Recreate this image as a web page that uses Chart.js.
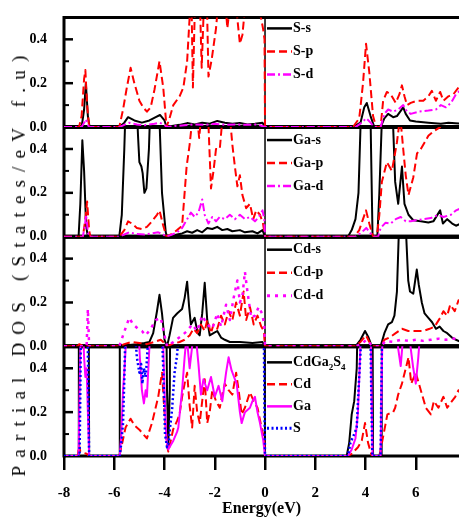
<!DOCTYPE html>
<html>
<head>
<meta charset="utf-8">
<script src="https://cdn.jsdelivr.net/npm/chart.js@4.4.0/dist/chart.umd.min.js"></script>
<style>
html,body{margin:0;padding:0;background:#fff;}
#wrap{position:relative;width:459px;height:518px;overflow:hidden;}
#yTitle{position:absolute;left:19px;top:262px;transform:translate(-50%,-50%) rotate(-90deg);
  font:19px "Liberation Serif",serif;letter-spacing:8.2px;white-space:nowrap;color:#000;}
</style>
</head>
<body>
<div id="wrap">
<canvas id="dos" width="459" height="518"></canvas>
<div id="yTitle">Partial DOS (States/eV f.u)</div>
</div>
<script>
// energy (eV), DOS pairs; values above 0.5 run off the top of a panel
const xTicks = [-8, -6, -4, -2, 0, 2, 4, 6]
const yTicks = [0, 0.2, 0.4]

// panel 1 : S
const sS = [[-8,0],[-7.3,0],[-7.2,0.08],[-7.13,0.2],[-7.05,0.05],[-6.98,0],[-5.8,0],[-5.6,0.02],[-5.45,0.045],[-5.2,0.03],[-4.9,0.02],[-4.6,0.03],[-4.35,0.045],[-4.18,0.055],[-4.0,0.03],[-3.92,0],[-3.7,0.005],[-3.4,0.01],[-3.1,0.018],[-2.8,0.012],[-2.5,0.02],[-2.2,0.015],[-1.9,0.028],[-1.6,0.02],[-1.3,0.015],[-1.0,0.018],[-0.7,0.012],[-0.4,0.015],[-0.1,0.02],[0,0],
  [3.5,0],[3.8,0.02],[3.95,0.09],[4.05,0.11],[4.2,0.05],[4.35,0],[4.6,0],[4.75,0.04],[4.9,0.06],[5.1,0.045],[5.25,0.05],[5.5,0.09],[5.6,0.06],[5.77,0.03],[6.0,0.025],[6.5,0.02],[7.0,0.015],[7.3,0.02],[7.8,0.015]]
const sP = [[-8,0],[-7.4,0],[-7.3,0.05],[-7.2,0.22],[-7.15,0.26],[-7.08,0.1],[-7.0,0],[-5.8,0],[-5.65,0.08],[-5.5,0.18],[-5.35,0.27],[-5.2,0.2],[-5.0,0.12],[-4.85,0.09],[-4.7,0.07],[-4.55,0.09],[-4.4,0.17],[-4.2,0.3],[-4.05,0.18],[-3.92,0],[-3.8,0.04],[-3.65,0.1],[-3.4,0.14],[-3.25,0.18],[-3.1,0.3],[-3.0,0.5],[-2.93,0.6],[-2.87,0.18],[-2.78,0.6],[-2.62,0.7],[-2.52,0.27],[-2.42,0.6],[-2.3,0.5],[-2.25,0.23],[-2.12,0.31],[-1.95,0.45],[-1.8,0.65],[-1.6,0.6],[-1.5,0.45],[-1.35,0.6],[-1.15,0.55],[-1.0,0.38],[-0.9,0.42],[-0.75,0.6],[-0.5,0.7],[-0.25,0.55],[-0.08,0.45],[-0.02,0.4],[0,0],
  [3.5,0],[3.75,0.04],[3.9,0.2],[4.02,0.38],[4.15,0.25],[4.3,0.05],[4.42,0],[4.6,0],[4.7,0.12],[4.85,0.16],[5.0,0.15],[5.1,0.13],[5.2,0.11],[5.35,0.15],[5.45,0.19],[5.55,0.14],[5.65,0.1],[5.8,0.11],[6.05,0.12],[6.3,0.12],[6.5,0.14],[6.64,0.165],[6.8,0.12],[6.97,0.16],[7.1,0.12],[7.3,0.14],[7.5,0.15],[7.7,0.18],[7.8,0.19]]
const sD = [[-8,0],[-7.3,0],[-7.2,0.02],[-7.13,0.035],[-7.05,0.01],[-7.0,0],[-5.8,0],[-5.6,0.01],[-5.4,0.02],[-5.1,0.012],[-4.8,0.008],[-4.4,0.015],[-4.2,0.02],[-4.0,0.01],[-3.92,0],[-3.6,0.005],[-3.2,0.008],[-2.8,0.012],[-2.4,0.01],[-2.0,0.015],[-1.6,0.01],[-1.2,0.012],[-0.8,0.01],[-0.3,0.012],[0,0],
  [3.6,0],[3.85,0.02],[4.03,0.04],[4.2,0.02],[4.35,0],[4.6,0],[4.75,0.06],[4.9,0.08],[5.1,0.07],[5.3,0.08],[5.5,0.1],[5.65,0.07],[5.8,0.06],[6.1,0.07],[6.5,0.075],[6.8,0.08],[7.0,0.1],[7.2,0.09],[7.4,0.11],[7.6,0.15],[7.8,0.17]]

// panel 2 : Ga
const gaS = [[-8,0],[-7.42,0],[-7.35,0.15],[-7.27,0.44],[-7.2,0.3],[-7.12,0.05],[-7.05,0],[-5.8,0],[-5.7,0.1],[-5.6,0.4],[-5.52,0.7],[-5.3,0.9],[-5.15,0.7],[-5.05,0.45],[-5.0,0.34],[-4.92,0.32],[-4.87,0.29],[-4.8,0.2],[-4.72,0.22],[-4.62,0.4],[-4.55,0.65],[-4.3,0.8],[-4.22,0.6],[-4.1,0.2],[-3.95,0.02],[-3.9,0],[-3.7,0.005],[-3.5,0.01],[-3.3,0.015],[-3.1,0.025],[-2.9,0.018],[-2.7,0.03],[-2.5,0.02],[-2.3,0.04],[-2.1,0.035],[-1.9,0.045],[-1.7,0.03],[-1.5,0.035],[-1.3,0.025],[-1.0,0.03],[-0.8,0.02],[-0.5,0.025],[-0.3,0.015],[-0.1,0.03],[0,0],
  [3.3,0],[3.45,0.03],[3.6,0.08],[3.72,0.2],[3.8,0.5],[3.9,0.9],[4.15,0.9],[4.22,0.4],[4.28,0],[4.47,0],[4.55,0.2],[4.7,0.7],[5.0,0.8],[5.1,0.5],[5.18,0.25],[5.3,0.15],[5.45,0.32],[5.55,0.15],[5.71,0.1],[5.9,0.075],[6.2,0.07],[6.5,0.065],[6.7,0.07],[6.97,0.12],[7.08,0.06],[7.25,0.08],[7.45,0.06],[7.6,0.05],[7.8,0.06]]
const gaP = [[-8,0],[-7.25,0],[-7.15,0.08],[-7.08,0.16],[-7.0,0.03],[-6.95,0],[-5.8,0],[-5.6,0.03],[-5.45,0.07],[-5.3,0.06],[-5.1,0.04],[-4.9,0.035],[-4.7,0.045],[-4.5,0.07],[-4.3,0.1],[-4.2,0.12],[-4.05,0.05],[-3.92,0],[-3.75,0.01],[-3.5,0.03],[-3.3,0.05],[-3.2,0.2],[-3.12,0.32],[-3.0,0.42],[-2.88,0.55],[-2.75,0.6],[-2.62,0.45],[-2.5,0.6],[-2.3,0.65],[-2.15,0.22],[-2.05,0.3],[-1.95,0.4],[-1.8,0.4],[-1.65,0.6],[-1.4,0.55],[-1.3,0.42],[-1.2,0.32],[-1.1,0.23],[-1.0,0.28],[-0.9,0.19],[-0.75,0.13],[-0.6,0.15],[-0.47,0.08],[-0.35,0.12],[-0.2,0.1],[-0.08,0.06],[0,0],
  [3.55,0],[3.75,0.03],[3.9,0.08],[4.02,0.12],[4.15,0.06],[4.3,0],[4.45,0],[4.55,0.1],[4.65,0.25],[4.85,0.34],[5.05,0.3],[5.25,0.43],[5.38,0.55],[5.5,0.4],[5.6,0.28],[5.71,0.19],[5.9,0.27],[6.05,0.38],[6.2,0.4],[6.35,0.43],[6.5,0.46],[6.7,0.48],[6.97,0.5],[7.2,0.6],[7.5,0.55],[7.8,0.6]]
const gaD = [[-8,0],[-7.25,0],[-7.17,0.05],[-7.12,0.1],[-7.05,0.02],[-7.0,0],[-5.8,0],[-5.6,0.01],[-5.4,0.02],[-5.1,0.012],[-4.8,0.01],[-4.5,0.015],[-4.25,0.02],[-4.05,0.01],[-3.92,0],[-3.7,0.01],[-3.5,0.02],[-3.3,0.04],[-3.1,0.08],[-2.95,0.11],[-2.8,0.09],[-2.65,0.11],[-2.5,0.17],[-2.4,0.1],[-2.25,0.06],[-2.1,0.09],[-1.95,0.07],[-1.8,0.09],[-1.6,0.08],[-1.4,0.1],[-1.2,0.08],[-1.0,0.1],[-0.8,0.08],[-0.6,0.09],[-0.4,0.07],[-0.25,0.09],[-0.1,0.12],[-0.03,0.08],[0,0],
  [3.6,0],[3.85,0.02],[4.03,0.04],[4.2,0.015],[4.35,0],[4.5,0],[4.6,0.04],[4.8,0.064],[5.0,0.06],[5.2,0.08],[5.4,0.09],[5.6,0.07],[5.8,0.07],[6.0,0.075],[6.3,0.08],[6.6,0.085],[6.9,0.1],[7.1,0.09],[7.4,0.1],[7.6,0.12],[7.8,0.13]]

// panel 3 : Cd
const cdS = [[-8,0],[-5.8,0],[-5.5,0.005],[-5.1,0.01],[-4.8,0.015],[-4.6,0.02],[-4.45,0.06],[-4.3,0.16],[-4.2,0.235],[-4.1,0.15],[-4.0,0.03],[-3.9,0],[-3.8,0.05],[-3.66,0.13],[-3.5,0.15],[-3.3,0.17],[-3.2,0.22],[-3.1,0.295],[-3.02,0.18],[-2.95,0.1],[-2.8,0.13],[-2.68,0.06],[-2.6,0.05],[-2.5,0.15],[-2.4,0.29],[-2.3,0.12],[-2.2,0.05],[-2.05,0.06],[-1.9,0.07],[-1.75,0.04],[-1.6,0.03],[-1.4,0.02],[-1.0,0.02],[-0.5,0.015],[-0.1,0.02],[0,0],
  [3.6,0],[3.8,0.03],[3.98,0.07],[4.12,0.04],[4.25,0],[4.6,0],[4.75,0.06],[4.9,0.1],[5.05,0.11],[5.15,0.14],[5.25,0.25],[5.32,0.5],[5.4,0.8],[5.55,0.8],[5.62,0.5],[5.7,0.3],[5.77,0.25],[5.9,0.24],[6.04,0.35],[6.12,0.28],[6.24,0.2],[6.35,0.15],[6.5,0.13],[6.65,0.11],[6.8,0.08],[6.95,0.09],[7.1,0.07],[7.25,0.06],[7.44,0.04],[7.6,0.03],[7.8,0.02]]
const cdP = [[-8,0],[-7.45,0],[-7.4,0.01],[-7.3,0.005],[-7.0,0],[-5.8,0],[-5.6,0.01],[-5.3,0.02],[-5.0,0.015],[-4.7,0.01],[-4.4,0.02],[-4.15,0.03],[-3.95,0.01],[-3.9,0],[-3.7,0.01],[-3.4,0.02],[-3.2,0.03],[-3.0,0.05],[-2.85,0.08],[-2.7,0.06],[-2.55,0.1],[-2.4,0.07],[-2.3,0.12],[-2.15,0.06],[-2.05,0.1],[-1.9,0.08],[-1.75,0.14],[-1.6,0.1],[-1.45,0.16],[-1.3,0.12],[-1.15,0.2],[-1.0,0.14],[-0.85,0.25],[-0.75,0.12],[-0.6,0.18],[-0.45,0.1],[-0.3,0.14],[-0.15,0.09],[-0.05,0.07],[0,0],
  [3.6,0],[3.8,0.02],[4.02,0.05],[4.15,0.02],[4.3,0],[4.6,0],[4.75,0.03],[4.95,0.04],[5.2,0.06],[5.45,0.08],[5.7,0.07],[6.0,0.07],[6.3,0.07],[6.55,0.08],[6.75,0.09],[6.97,0.13],[7.1,0.16],[7.25,0.14],[7.37,0.19],[7.55,0.16],[7.7,0.21],[7.8,0.2]]
const cdD = [[-8,0],[-7.1,0],[-7.05,0.17],[-7.0,0],[-5.8,0],[-5.65,0.05],[-5.5,0.1],[-5.4,0.13],[-5.25,0.1],[-5.05,0.08],[-4.9,0.07],[-4.75,0.05],[-4.55,0.08],[-4.35,0.12],[-4.15,0.13],[-4.0,0.05],[-3.9,0],[-3.65,0.02],[-3.3,0.05],[-3.1,0.07],[-2.9,0.1],[-2.7,0.07],[-2.5,0.14],[-2.3,0.1],[-2.1,0.08],[-1.9,0.15],[-1.75,0.09],[-1.55,0.19],[-1.4,0.12],[-1.25,0.22],[-1.1,0.3],[-1.0,0.2],[-0.9,0.23],[-0.8,0.34],[-0.7,0.25],[-0.55,0.13],[-0.4,0.14],[-0.25,0.18],[-0.12,0.15],[-0.03,0.1],[0,0],
  [3.6,0],[3.85,0.01],[4.03,0.03],[4.2,0.01],[4.3,0],[4.6,0],[4.8,0.025],[5.1,0.02],[5.4,0.03],[5.7,0.025],[6.0,0.03],[6.3,0.025],[6.6,0.03],[6.9,0.035],[7.2,0.03],[7.5,0.035],[7.8,0.04]]

// panel 4 : totals
const totCGS = [[-8,0],[-7.43,0],[-7.41,0.9],[-7.02,0.9],[-7.0,0],[-5.8,0],[-5.78,0.9],[-3.95,0.9],[-3.9,0.3],[-3.85,0.05],[-3.79,0.3],[-3.76,0.9],[-0.02,0.9],[0,0],
  [3.25,0],[3.35,0.06],[3.45,0.19],[3.55,0.25],[3.65,0.4],[3.73,0.9],[4.27,0.9],[4.3,0],[4.64,0],[4.66,0.9],[7.8,0.9]]
const totCd = [[-8,0],[-7.45,0],[-7.4,0.05],[-7.35,0.02],[-7.1,0.01],[-7.0,0],[-5.8,0],[-5.7,0.05],[-5.55,0.13],[-5.35,0.17],[-5.2,0.14],[-5.0,0.12],[-4.85,0.1],[-4.7,0.08],[-4.5,0.15],[-4.25,0.27],[-4.1,0.38],[-4.0,0.2],[-3.9,0.05],[-3.85,0.02],[-3.75,0.07],[-3.66,0.12],[-3.5,0.16],[-3.4,0.19],[-3.3,0.27],[-3.2,0.33],[-3.1,0.38],[-3.0,0.23],[-2.9,0.13],[-2.8,0.32],[-2.7,0.2],[-2.6,0.15],[-2.5,0.25],[-2.4,0.35],[-2.3,0.15],[-2.2,0.2],[-2.1,0.3],[-1.95,0.25],[-1.8,0.22],[-1.7,0.28],[-1.6,0.33],[-1.45,0.3],[-1.3,0.28],[-1.15,0.38],[-1.05,0.3],[-0.93,0.19],[-0.8,0.22],[-0.6,0.29],[-0.45,0.25],[-0.3,0.22],[-0.12,0.12],[-0.03,0.08],[0,0],
  [3.3,0],[3.45,0.01],[3.7,0.04],[3.85,0.07],[3.98,0.15],[4.1,0.06],[4.25,0],[4.55,0],[4.67,0.07],[4.87,0.19],[5.1,0.2],[5.18,0.22],[5.3,0.28],[5.45,0.33],[5.58,0.39],[5.71,0.45],[5.82,0.33],[6.0,0.38],[6.2,0.3],[6.4,0.22],[6.6,0.19],[6.72,0.25],[6.9,0.22],[7.1,0.27],[7.25,0.22],[7.37,0.24],[7.57,0.27],[7.7,0.3],[7.8,0.28]]
const totGa = [[-8,0],[-7.42,0],[-7.38,0.3],[-7.33,0.6],[-7.25,0.6],[-7.2,0.45],[-7.15,0.36],[-7.1,0.4],[-7.05,0.2],[-7.0,0],[-5.78,0],[-5.72,0.1],[-5.65,0.3],[-5.58,0.42],[-5.5,0.6],[-5.05,0.6],[-4.98,0.45],[-4.9,0.3],[-4.82,0.24],[-4.75,0.3],[-4.7,0.27],[-4.6,0.5],[-4.5,0.7],[-4.1,0.7],[-4.0,0.3],[-3.93,0.08],[-3.85,0.03],[-3.75,0.05],[-3.65,0.07],[-3.5,0.11],[-3.45,0.13],[-3.38,0.21],[-3.3,0.3],[-3.2,0.45],[-3.12,0.55],[-3.0,0.4],[-2.9,0.5],[-2.8,0.6],[-2.65,0.42],[-2.55,0.28],[-2.45,0.35],[-2.3,0.3],[-2.15,0.36],[-2.0,0.27],[-1.85,0.32],[-1.7,0.25],[-1.55,0.38],[-1.45,0.45],[-1.33,0.39],[-1.2,0.35],[-1.13,0.33],[-1.0,0.2],[-0.93,0.15],[-0.8,0.2],[-0.6,0.22],[-0.5,0.25],[-0.4,0.27],[-0.3,0.2],[-0.2,0.15],[-0.07,0.07],[0,0],
  [3.3,0],[3.45,0.03],[3.6,0.08],[3.7,0.2],[3.78,0.45],[3.85,0.7],[4.2,0.7],[4.25,0.2],[4.28,0],[4.6,0],[4.65,0.4],[4.7,0.7],[5.2,0.7],[5.3,0.49],[5.4,0.41],[5.5,0.55],[5.7,0.6],[5.8,0.49],[5.9,0.4],[6.0,0.33],[6.1,0.45],[6.2,0.6],[7.8,0.65]]
const totS = [[-8,0],[-7.38,0],[-7.35,0.3],[-7.3,0.9],[-7.1,0.9],[-7.03,0.3],[-7.0,0],[-5.78,0],[-5.72,0.06],[-5.65,0.15],[-5.6,0.35],[-5.55,0.6],[-5.2,0.6],[-5.1,0.45],[-5.0,0.38],[-4.93,0.42],[-4.88,0.33],[-4.82,0.4],[-4.75,0.36],[-4.7,0.44],[-4.62,0.6],[-4.15,0.7],[-4.05,0.4],[-3.98,0.1],[-3.9,0.04],[-3.83,0.06],[-3.78,0.13],[-3.7,0.21],[-3.6,0.38],[-3.5,0.46],[-3.42,0.6],[-0.05,0.6],[-0.02,0.2],[0,0],
  [3.3,0],[3.4,0.06],[3.55,0.1],[3.65,0.13],[3.72,0.3],[3.8,0.47],[3.85,0.7],[4.18,0.7],[4.24,0.2],[4.27,0],[4.6,0],[4.63,0.3],[4.67,0.7],[7.8,0.8]]

const BLACK = '#000000', RED = '#ff0000', MAG = '#ff00ff', BLUE = '#0000ff'
const FONT = '"Liberation Serif", "Times New Roman", serif'

function line(label, pts, panel, row, color, dash, width) {
  return {
    label: label, panel: panel, row: row,
    data: pts.map(p => ({x: p[0], y: p[1]})),
    yAxisID: 'y' + panel, xAxisID: 'x',
    borderColor: color, borderWidth: width || 2, borderDash: dash,
    borderJoinStyle: 'round', pointRadius: 0, tension: 0, fill: false
  }
}

// first dataset ends up on top
let datasets = [
  line('S-d', sD, 1, 2, MAG, [8,3,2,3]),
  line('S-p', sP, 1, 1, RED, [8,4]),
  line('S-s', sS, 1, 0, BLACK, []),
  line('Ga-d', gaD, 2, 2, MAG, [8,3,2,3]),
  line('Ga-p', gaP, 2, 1, RED, [8,4]),
  line('Ga-s', gaS, 2, 0, BLACK, []),
  line('Cd-d', cdD, 3, 2, MAG, [3,5], 2.5),
  line('Cd-p', cdP, 3, 1, RED, [8,4]),
  line('Cd-s', cdS, 3, 0, BLACK, []),
  line('S', totS, 4, 3, BLUE, [2,2.5], 2.5),
  line('Ga', totGa, 4, 2, MAG, []),
  line('Cd', totCd, 4, 1, RED, [8,4]),
  line('CdGa_2S_4', totCGS, 4, 0, BLACK, [])
]

function panelAxis(i) {
  return {
    type: 'linear', position: 'left', stack: 'dos', stackWeight: 1, weight: 5 - i,
    min: 0, max: 0.5, offset: false,
    grid: {display: false}, border: {display: false},
    ticks: {
      stepSize: 0.2, includeBounds: false, padding: 9, color: '#000',
      font: {family: FONT, size: 14, weight: 'bold'},
      callback: v => v.toFixed(1)
    },
    afterFit: s => { s.width = 64 }
  }
}

// each dataset is cut to its own panel
const panelClip = {
  id: 'panelClip',
  beforeDatasetDraw(chart, args) {
    const ys = args.meta.yScale, a = chart.chartArea, ctx = chart.ctx
    ctx.save()
    ctx.beginPath()
    ctx.rect(a.left, ys.top - 1, a.right - a.left, ys.bottom - ys.top + 2.5)
    ctx.clip()
  },
  afterDatasetDraw(chart) {
    chart.ctx.restore()
  }
}

// frames, inward y ticks, zero line
const frames = {
  id: 'frames',
  beforeDatasetsDraw(chart) {
    const ctx = chart.ctx, a = chart.chartArea, xs = chart.scales.x
    ctx.save()
    ctx.strokeStyle = '#000'
    for (let i = 1; i <= 4; i++) {
      const ys = chart.scales['y' + i]
      for (let v = 0.1; v < 0.5; v += 0.1) {
        const y = ys.getPixelForValue(v)
        const major = Math.abs(v / 0.2 - Math.round(v / 0.2)) < 0.01
        ctx.lineWidth = major ? 2.5 : 2
        ctx.beginPath()
        ctx.moveTo(a.left, y)
        ctx.lineTo(a.left + (major ? 9 : 5), y)
        ctx.stroke()
      }
      ctx.lineWidth = i == 1 ? 3 : 4
      ctx.beginPath(); ctx.moveTo(a.left, ys.top); ctx.lineTo(a.right, ys.top); ctx.stroke()
      ctx.lineWidth = i == 4 ? 3 : 4
      ctx.beginPath(); ctx.moveTo(a.left, ys.bottom); ctx.lineTo(a.right, ys.bottom); ctx.stroke()
    }
    ctx.lineWidth = 3
    ctx.beginPath(); ctx.moveTo(a.left, a.top - 1.5); ctx.lineTo(a.left, a.bottom + 1.5); ctx.stroke()
    const x0 = xs.getPixelForValue(0)
    ctx.lineWidth = 1.5
    ctx.beginPath(); ctx.moveTo(x0, a.top); ctx.lineTo(x0, a.bottom); ctx.stroke()
    ctx.restore()
  }
}

// legends inside each panel, right of E = 0
const panelLegend = {
  id: 'panelLegend',
  afterDraw(chart) {
    const ctx = chart.ctx, x0 = chart.scales.x.getPixelForValue(0)
    const offs = [0, 11, 13, 13, 16], gaps = [0, 23, 23, 23, 22]
    ctx.save()
    chart.data.datasets.forEach(ds => {
      const ys = chart.scales['y' + ds.panel]
      const y = ys.top + offs[ds.panel] + ds.row * gaps[ds.panel]
      ctx.strokeStyle = ds.borderColor
      ctx.lineWidth = ds.borderWidth + 0.5
      ctx.setLineDash(ds.borderDash)
      ctx.beginPath(); ctx.moveTo(x0 + 2, y); ctx.lineTo(x0 + 27, y); ctx.stroke()
      ctx.setLineDash([])
      ctx.fillStyle = '#000'
      ctx.textBaseline = 'middle'
      let tx = x0 + 28
      const parts = ds.label.split('_')
      parts.forEach((p, k) => {
        if (k > 0) {
          ctx.font = 'bold 9px ' + FONT
          ctx.fillText(p[0], tx, y + 5)
          tx += ctx.measureText(p[0]).width
          p = p.slice(1)
        }
        ctx.font = 'bold 14px ' + FONT
        ctx.fillText(p, tx, y)
        tx += ctx.measureText(p).width
      })
    })
    ctx.restore()
  }
}

let scales = {
  x: {
    type: 'linear', position: 'bottom', min: -8, max: 7.72,
    grid: {display: true, drawOnChartArea: false, drawTicks: true, tickLength: 14, lineWidth: 2.5, color: '#000'},
    border: {display: false},
    ticks: {stepSize: 2, includeBounds: false, padding: 14, color: '#000', maxRotation: 0,
      font: {family: FONT, size: 15, weight: 'bold'}},
    title: {display: true, text: 'Energy(eV)', color: '#000', padding: {top: 0, bottom: 0},
      font: {family: FONT, size: 16, weight: 'bold'}},
    afterFit: s => { s.height = 62 }
  }
}
for (let i = 1; i <= 4; i++) scales['y' + i] = panelAxis(i)

new Chart(document.getElementById('dos'), {
  type: 'line',
  data: {datasets: datasets},
  options: {
    responsive: false, animation: false, devicePixelRatio: 1,
    layout: {padding: {top: 14, left: 0, right: 0, bottom: 0}},
    plugins: {legend: {display: false}, tooltip: {enabled: false}},
    scales: scales
  },
  plugins: [panelClip, frames, panelLegend]
})
</script>
</body>
</html>
